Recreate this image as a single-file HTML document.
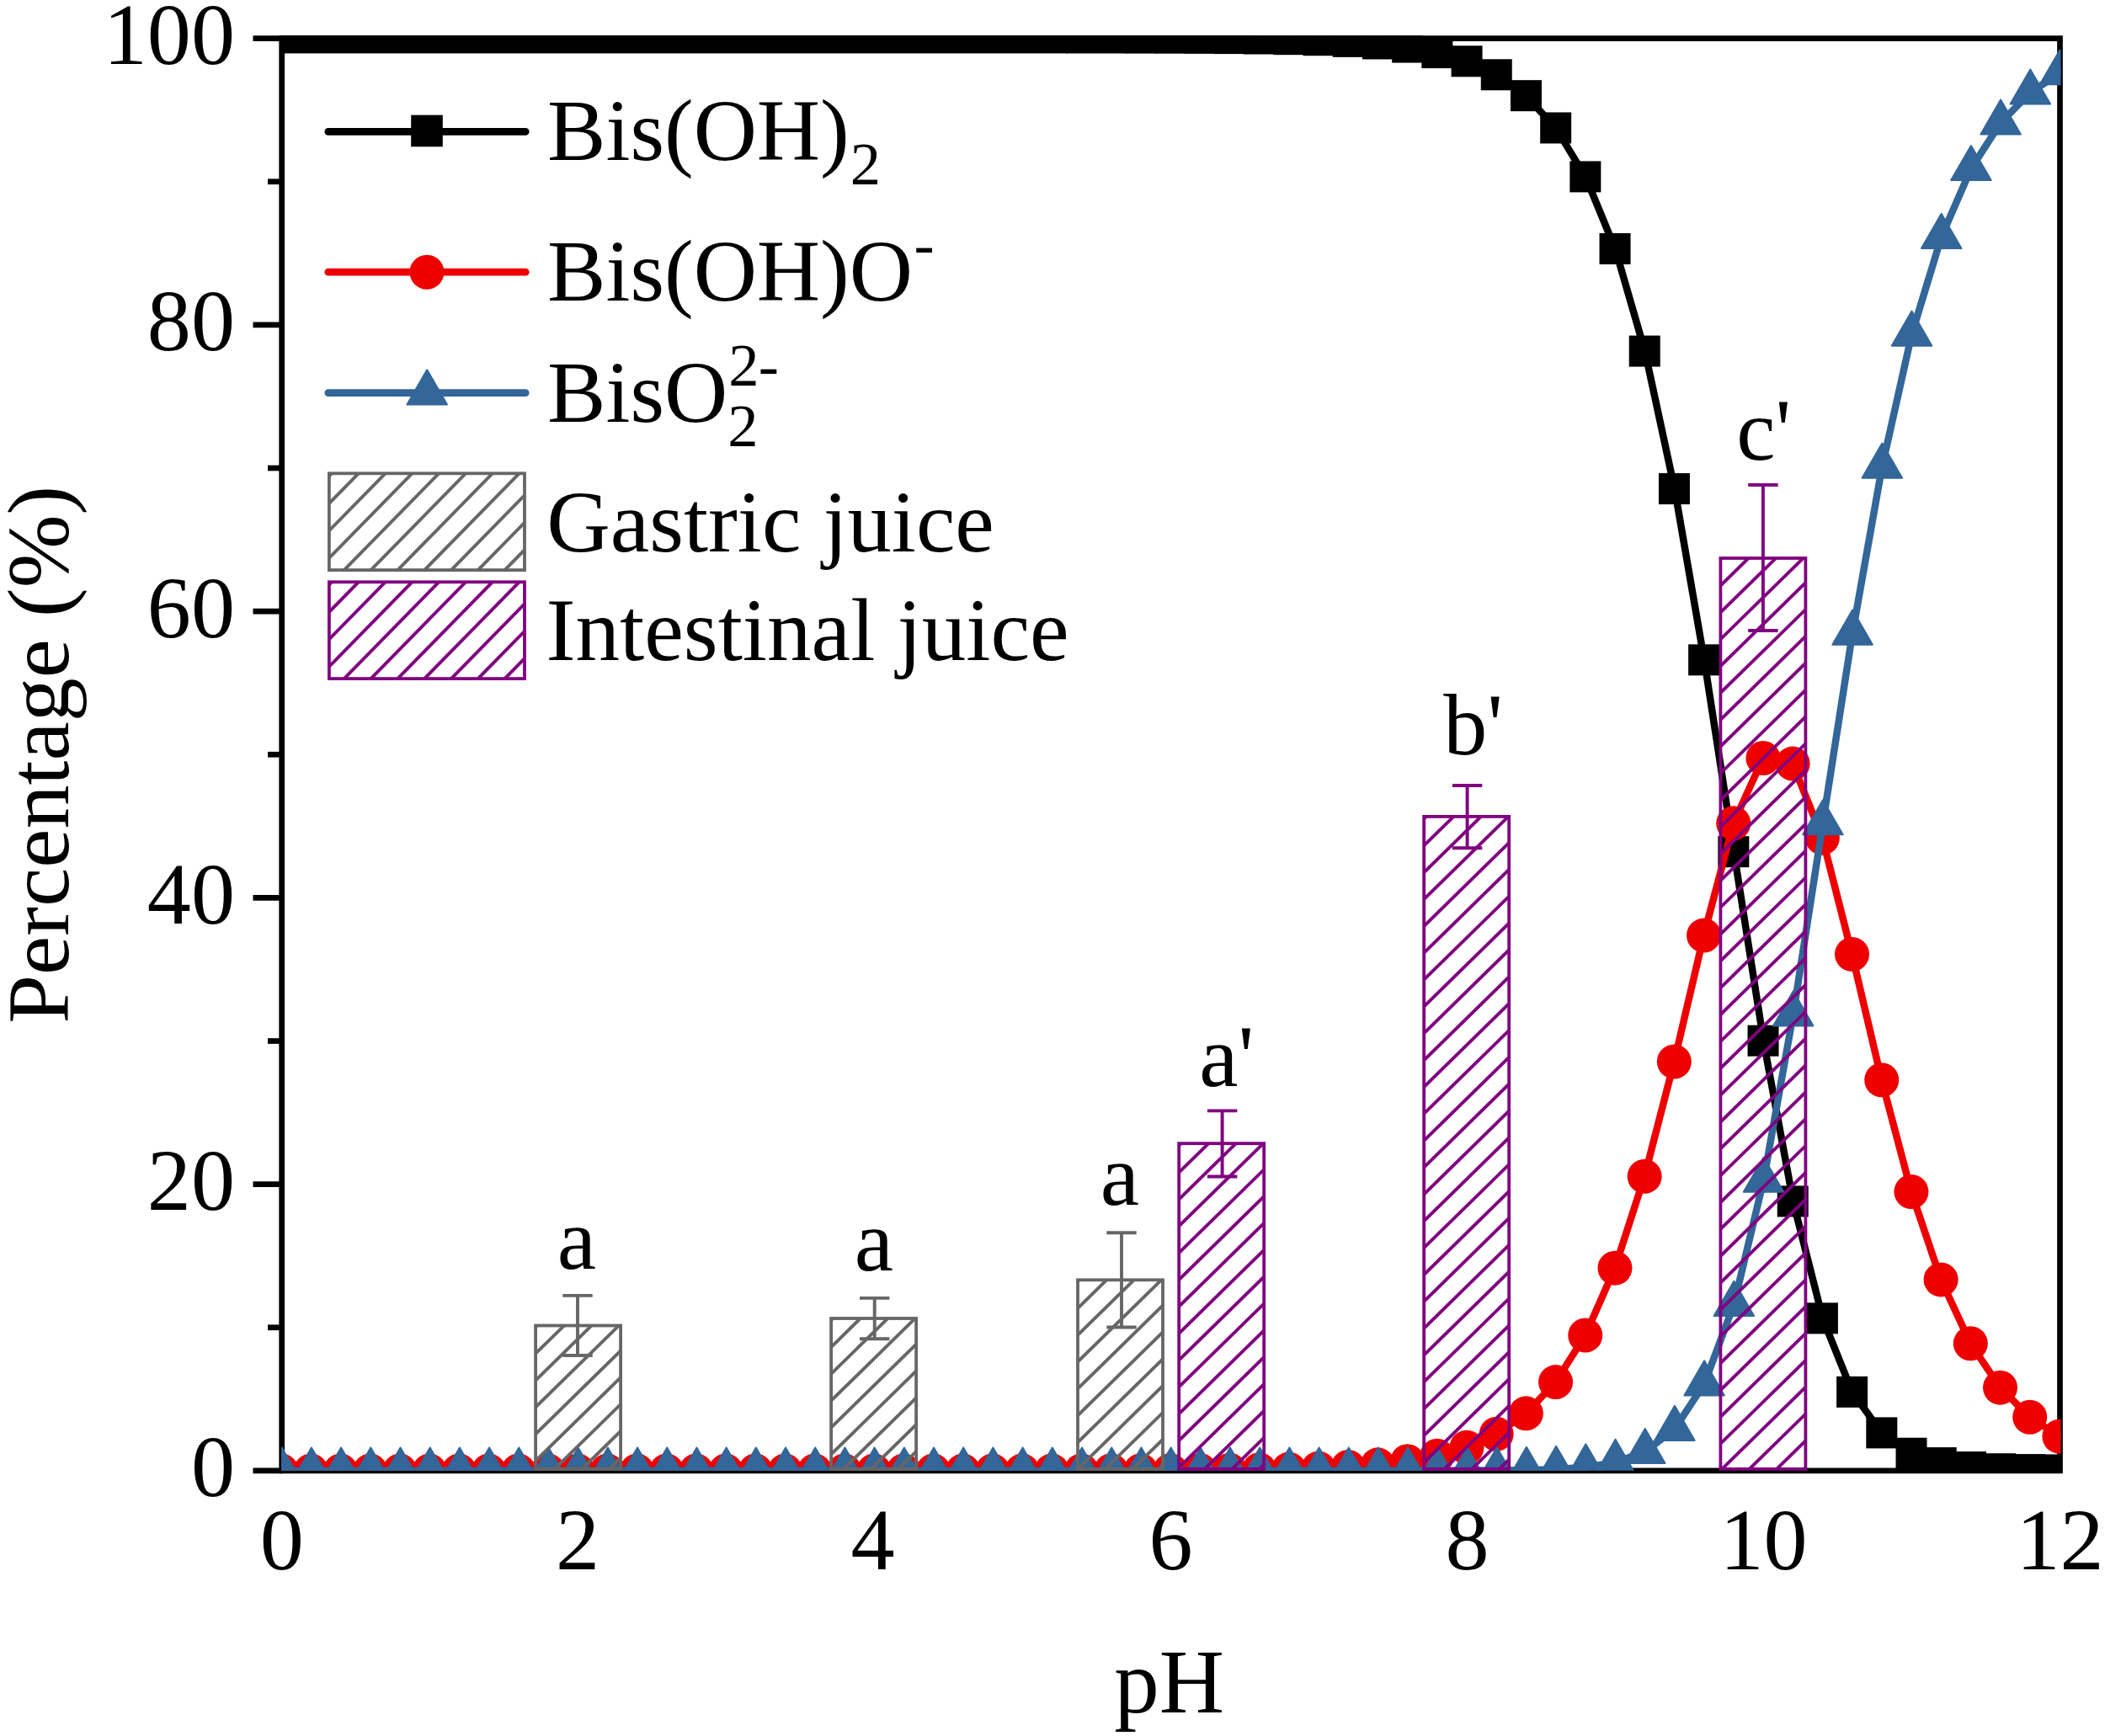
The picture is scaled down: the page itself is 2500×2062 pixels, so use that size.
<!DOCTYPE html>
<html lang="en"><head><meta charset="utf-8"><title>Speciation of Bis(OH)2 vs pH</title>
<style>html,body{margin:0;padding:0;background:#fff}body{width:2500px;height:2062px;overflow:hidden}svg{display:block}text{font-family:"Liberation Serif", serif;fill:#000}</style>
</head><body>
<svg width="2500" height="2062" viewBox="0 0 2500 2062">
<rect x="0" y="0" width="2500" height="2062" fill="#fff"/>
<defs><clipPath id="plot"><rect x="334.00" y="42.30" width="2113.50" height="1704.50"/></clipPath></defs>
<g stroke="#000" stroke-width="6.70" fill="none" stroke-linecap="butt">
<rect x="334.70" y="45.60" width="2111.80" height="1701.30"/>
<line x1="300.50" y1="1746.90" x2="334.70" y2="1746.90"/>
<line x1="318.00" y1="1576.77" x2="334.70" y2="1576.77"/>
<line x1="300.50" y1="1406.64" x2="334.70" y2="1406.64"/>
<line x1="318.00" y1="1236.51" x2="334.70" y2="1236.51"/>
<line x1="300.50" y1="1066.38" x2="334.70" y2="1066.38"/>
<line x1="318.00" y1="896.25" x2="334.70" y2="896.25"/>
<line x1="300.50" y1="726.12" x2="334.70" y2="726.12"/>
<line x1="318.00" y1="555.99" x2="334.70" y2="555.99"/>
<line x1="300.50" y1="385.86" x2="334.70" y2="385.86"/>
<line x1="318.00" y1="215.73" x2="334.70" y2="215.73"/>
<line x1="300.50" y1="45.60" x2="334.70" y2="45.60"/>
</g>
<g clip-path="url(#plot)">
<polyline points="334.70,45.60 369.90,45.60 405.09,45.60 440.29,45.60 475.49,45.60 510.68,45.60 545.88,45.60 581.08,45.60 616.27,45.60 651.47,45.60 686.67,45.60 721.86,45.60 757.06,45.60 792.26,45.60 827.45,45.60 862.65,45.60 897.85,45.60 933.04,45.60 968.24,45.60 1003.44,45.60 1038.63,45.60 1073.83,45.60 1109.03,45.61 1144.22,45.61 1179.42,45.62 1214.62,45.63 1249.81,45.64 1285.01,45.67 1320.21,45.71 1355.40,45.78 1390.60,45.88 1425.80,46.05 1460.99,46.31 1496.19,46.72 1531.39,47.38 1566.58,48.42 1601.78,50.07 1636.98,52.67 1672.17,56.78 1707.37,63.28 1742.57,73.48 1777.76,89.48 1812.96,114.35 1848.16,152.64 1883.35,210.60 1918.55,296.17 1953.75,417.77 1988.94,581.25 2024.14,784.54 2059.34,1012.40 2094.53,1236.87 2129.73,1427.62 2164.93,1566.57 2200.12,1654.05 2235.32,1702.58 2270.52,1726.93 2305.71,1738.27 2340.91,1743.27 2376.11,1745.41 2411.30,1746.29 2446.50,1746.65" fill="none" stroke="#000" stroke-width="8.50" stroke-linejoin="round" stroke-linecap="round"/>
<g fill="#000">
<rect x="315.70" y="26.40" width="952.11" height="37.00"/>
<rect x="1266.01" y="26.47" width="72.20" height="37.00"/>
<rect x="1336.40" y="26.58" width="37.00" height="37.00"/>
<rect x="1371.60" y="26.68" width="37.00" height="37.00"/>
<rect x="1406.80" y="26.85" width="37.00" height="37.00"/>
<rect x="1441.99" y="27.11" width="37.00" height="37.00"/>
<rect x="1477.19" y="27.52" width="37.00" height="37.00"/>
<rect x="1512.39" y="28.18" width="37.00" height="37.00"/>
<rect x="1547.58" y="29.22" width="37.00" height="37.00"/>
<rect x="1582.78" y="30.87" width="37.00" height="37.00"/>
<rect x="1617.98" y="33.47" width="37.00" height="37.00"/>
<rect x="1653.17" y="37.58" width="37.00" height="37.00"/>
<rect x="1688.37" y="44.08" width="37.00" height="37.00"/>
<rect x="1723.57" y="54.28" width="37.00" height="37.00"/>
<rect x="1758.76" y="70.28" width="37.00" height="37.00"/>
<rect x="1793.96" y="95.15" width="37.00" height="37.00"/>
<rect x="1829.16" y="133.44" width="37.00" height="37.00"/>
<rect x="1864.35" y="191.40" width="37.00" height="37.00"/>
<rect x="1899.55" y="276.97" width="37.00" height="37.00"/>
<rect x="1934.75" y="398.57" width="37.00" height="37.00"/>
<rect x="1969.94" y="562.05" width="37.00" height="37.00"/>
<rect x="2005.14" y="765.34" width="37.00" height="37.00"/>
<rect x="2040.34" y="993.20" width="37.00" height="37.00"/>
<rect x="2075.53" y="1217.67" width="37.00" height="37.00"/>
<rect x="2110.73" y="1408.42" width="37.00" height="37.00"/>
<rect x="2145.93" y="1547.37" width="37.00" height="37.00"/>
<rect x="2181.12" y="1634.85" width="37.00" height="37.00"/>
<rect x="2216.32" y="1683.38" width="37.00" height="37.00"/>
<rect x="2251.52" y="1707.73" width="37.00" height="37.00"/>
<rect x="2286.71" y="1719.07" width="37.00" height="37.00"/>
<rect x="2321.91" y="1724.07" width="37.00" height="37.00"/>
<rect x="2357.11" y="1726.21" width="37.00" height="37.00"/>
<rect x="2392.30" y="1727.09" width="37.00" height="37.00"/>
<rect x="2427.50" y="1727.45" width="37.00" height="37.00"/>
</g>
<polyline points="334.10,1746.90 369.30,1746.90 404.49,1746.90 439.69,1746.90 474.89,1746.90 510.08,1746.90 545.28,1746.90 580.48,1746.90 615.67,1746.90 650.87,1746.90 686.07,1746.90 721.26,1746.90 756.46,1746.90 791.66,1746.90 826.85,1746.90 862.05,1746.90 897.25,1746.90 932.44,1746.90 967.64,1746.90 1002.84,1746.90 1038.03,1746.90 1073.23,1746.90 1108.43,1746.89 1143.62,1746.89 1178.82,1746.88 1214.02,1746.87 1249.21,1746.86 1284.41,1746.83 1319.61,1746.79 1354.80,1746.72 1390.00,1746.62 1425.20,1746.45 1460.39,1746.19 1495.59,1745.78 1530.79,1745.12 1565.98,1744.08 1601.18,1742.44 1636.38,1739.84 1671.57,1735.73 1706.77,1729.27 1741.97,1719.13 1777.16,1703.31 1812.36,1678.84 1847.56,1641.57 1882.75,1586.03 1917.95,1506.14 1953.15,1397.30 1988.34,1260.98 2023.54,1111.08 2058.74,977.79 2093.93,900.46 2129.13,907.10 2164.33,995.17 2199.52,1133.41 2234.72,1282.81 2269.92,1415.52 2305.11,1519.90 2340.31,1595.77 2375.51,1648.18 2410.70,1683.21 2445.90,1706.14" fill="none" stroke="#ee0000" stroke-width="8.50" stroke-linejoin="round" stroke-linecap="round"/>
<g fill="#ee0000">
<circle cx="334.10" cy="1746.90" r="20.50"/>
<circle cx="369.30" cy="1746.90" r="20.50"/>
<circle cx="404.49" cy="1746.90" r="20.50"/>
<circle cx="439.69" cy="1746.90" r="20.50"/>
<circle cx="474.89" cy="1746.90" r="20.50"/>
<circle cx="510.08" cy="1746.90" r="20.50"/>
<circle cx="545.28" cy="1746.90" r="20.50"/>
<circle cx="580.48" cy="1746.90" r="20.50"/>
<circle cx="615.67" cy="1746.90" r="20.50"/>
<circle cx="650.87" cy="1746.90" r="20.50"/>
<circle cx="686.07" cy="1746.90" r="20.50"/>
<circle cx="721.26" cy="1746.90" r="20.50"/>
<circle cx="756.46" cy="1746.90" r="20.50"/>
<circle cx="791.66" cy="1746.90" r="20.50"/>
<circle cx="826.85" cy="1746.90" r="20.50"/>
<circle cx="862.05" cy="1746.90" r="20.50"/>
<circle cx="897.25" cy="1746.90" r="20.50"/>
<circle cx="932.44" cy="1746.90" r="20.50"/>
<circle cx="967.64" cy="1746.90" r="20.50"/>
<circle cx="1002.84" cy="1746.90" r="20.50"/>
<circle cx="1038.03" cy="1746.90" r="20.50"/>
<circle cx="1073.23" cy="1746.90" r="20.50"/>
<circle cx="1108.43" cy="1746.89" r="20.50"/>
<circle cx="1143.62" cy="1746.89" r="20.50"/>
<circle cx="1178.82" cy="1746.88" r="20.50"/>
<circle cx="1214.02" cy="1746.87" r="20.50"/>
<circle cx="1249.21" cy="1746.86" r="20.50"/>
<circle cx="1284.41" cy="1746.83" r="20.50"/>
<circle cx="1319.61" cy="1746.79" r="20.50"/>
<circle cx="1354.80" cy="1746.72" r="20.50"/>
<circle cx="1390.00" cy="1746.62" r="20.50"/>
<circle cx="1425.20" cy="1746.45" r="20.50"/>
<circle cx="1460.39" cy="1746.19" r="20.50"/>
<circle cx="1495.59" cy="1745.78" r="20.50"/>
<circle cx="1530.79" cy="1745.12" r="20.50"/>
<circle cx="1565.98" cy="1744.08" r="20.50"/>
<circle cx="1601.18" cy="1742.44" r="20.50"/>
<circle cx="1636.38" cy="1739.84" r="20.50"/>
<circle cx="1671.57" cy="1735.73" r="20.50"/>
<circle cx="1706.77" cy="1729.27" r="20.50"/>
<circle cx="1741.97" cy="1719.13" r="20.50"/>
<circle cx="1777.16" cy="1703.31" r="20.50"/>
<circle cx="1812.36" cy="1678.84" r="20.50"/>
<circle cx="1847.56" cy="1641.57" r="20.50"/>
<circle cx="1882.75" cy="1586.03" r="20.50"/>
<circle cx="1917.95" cy="1506.14" r="20.50"/>
<circle cx="1953.15" cy="1397.30" r="20.50"/>
<circle cx="1988.34" cy="1260.98" r="20.50"/>
<circle cx="2023.54" cy="1111.08" r="20.50"/>
<circle cx="2058.74" cy="977.79" r="20.50"/>
<circle cx="2093.93" cy="900.46" r="20.50"/>
<circle cx="2129.13" cy="907.10" r="20.50"/>
<circle cx="2164.33" cy="995.17" r="20.50"/>
<circle cx="2199.52" cy="1133.41" r="20.50"/>
<circle cx="2234.72" cy="1282.81" r="20.50"/>
<circle cx="2269.92" cy="1415.52" r="20.50"/>
<circle cx="2305.11" cy="1519.90" r="20.50"/>
<circle cx="2340.31" cy="1595.77" r="20.50"/>
<circle cx="2375.51" cy="1648.18" r="20.50"/>
<circle cx="2410.70" cy="1683.21" r="20.50"/>
<circle cx="2445.90" cy="1706.14" r="20.50"/>
</g>
<polyline points="334.70,1746.90 369.90,1746.90 405.09,1746.90 440.29,1746.90 475.49,1746.90 510.68,1746.90 545.88,1746.90 581.08,1746.90 616.27,1746.90 651.47,1746.90 686.67,1746.90 721.86,1746.90 757.06,1746.90 792.26,1746.90 827.45,1746.90 862.65,1746.90 897.85,1746.90 933.04,1746.90 968.24,1746.90 1003.44,1746.90 1038.63,1746.90 1073.83,1746.90 1109.03,1746.90 1144.22,1746.90 1179.42,1746.90 1214.62,1746.90 1249.81,1746.90 1285.01,1746.90 1320.21,1746.90 1355.40,1746.90 1390.60,1746.90 1425.80,1746.90 1460.99,1746.90 1496.19,1746.90 1531.39,1746.90 1566.58,1746.90 1601.78,1746.90 1636.98,1746.89 1672.17,1746.88 1707.37,1746.85 1742.57,1746.79 1777.76,1746.62 1812.96,1746.20 1848.16,1745.19 1883.35,1742.77 1918.55,1737.09 1953.75,1724.33 1988.94,1697.18 2024.14,1643.78 2059.34,1549.21 2094.53,1402.08 2129.73,1204.68 2164.93,977.66 2200.12,751.94 2235.32,554.01 2270.52,396.94 2305.71,281.24 2340.91,200.36 2376.11,145.82 2411.30,109.90 2446.50,86.60" fill="none" stroke="#336699" stroke-width="8.50" stroke-linejoin="round" stroke-linecap="round"/>
<g fill="#336699" stroke="#336699" stroke-width="2" stroke-linejoin="round">
<path d="M334.70 1719.48L358.45 1760.61L310.95 1760.61Z"/>
<path d="M369.90 1719.48L393.65 1760.61L346.15 1760.61Z"/>
<path d="M405.09 1719.48L428.84 1760.61L381.34 1760.61Z"/>
<path d="M440.29 1719.48L464.04 1760.61L416.54 1760.61Z"/>
<path d="M475.49 1719.48L499.24 1760.61L451.74 1760.61Z"/>
<path d="M510.68 1719.48L534.43 1760.61L486.93 1760.61Z"/>
<path d="M545.88 1719.48L569.63 1760.61L522.13 1760.61Z"/>
<path d="M581.08 1719.48L604.83 1760.61L557.33 1760.61Z"/>
<path d="M616.27 1719.48L640.02 1760.61L592.52 1760.61Z"/>
<path d="M651.47 1719.48L675.22 1760.61L627.72 1760.61Z"/>
<path d="M686.67 1719.48L710.42 1760.61L662.92 1760.61Z"/>
<path d="M721.86 1719.48L745.61 1760.61L698.11 1760.61Z"/>
<path d="M757.06 1719.48L780.81 1760.61L733.31 1760.61Z"/>
<path d="M792.26 1719.48L816.01 1760.61L768.51 1760.61Z"/>
<path d="M827.45 1719.48L851.20 1760.61L803.70 1760.61Z"/>
<path d="M862.65 1719.48L886.40 1760.61L838.90 1760.61Z"/>
<path d="M897.85 1719.48L921.60 1760.61L874.10 1760.61Z"/>
<path d="M933.04 1719.48L956.79 1760.61L909.29 1760.61Z"/>
<path d="M968.24 1719.48L991.99 1760.61L944.49 1760.61Z"/>
<path d="M1003.44 1719.48L1027.19 1760.61L979.69 1760.61Z"/>
<path d="M1038.63 1719.48L1062.38 1760.61L1014.88 1760.61Z"/>
<path d="M1073.83 1719.48L1097.58 1760.61L1050.08 1760.61Z"/>
<path d="M1109.03 1719.48L1132.78 1760.61L1085.28 1760.61Z"/>
<path d="M1144.22 1719.48L1167.97 1760.61L1120.47 1760.61Z"/>
<path d="M1179.42 1719.48L1203.17 1760.61L1155.67 1760.61Z"/>
<path d="M1214.62 1719.48L1238.37 1760.61L1190.87 1760.61Z"/>
<path d="M1249.81 1719.48L1273.56 1760.61L1226.06 1760.61Z"/>
<path d="M1285.01 1719.48L1308.76 1760.61L1261.26 1760.61Z"/>
<path d="M1320.21 1719.48L1343.96 1760.61L1296.46 1760.61Z"/>
<path d="M1355.40 1719.48L1379.15 1760.61L1331.65 1760.61Z"/>
<path d="M1390.60 1719.48L1414.35 1760.61L1366.85 1760.61Z"/>
<path d="M1425.80 1719.48L1449.55 1760.61L1402.05 1760.61Z"/>
<path d="M1460.99 1719.48L1484.74 1760.61L1437.24 1760.61Z"/>
<path d="M1496.19 1719.48L1519.94 1760.61L1472.44 1760.61Z"/>
<path d="M1531.39 1719.48L1555.14 1760.61L1507.64 1760.61Z"/>
<path d="M1566.58 1719.47L1590.33 1760.61L1542.83 1760.61Z"/>
<path d="M1601.78 1719.47L1625.53 1760.61L1578.03 1760.61Z"/>
<path d="M1636.98 1719.47L1660.73 1760.60L1613.23 1760.60Z"/>
<path d="M1672.17 1719.46L1695.92 1760.59L1648.42 1760.59Z"/>
<path d="M1707.37 1719.43L1731.12 1760.57L1683.62 1760.57Z"/>
<path d="M1742.57 1719.36L1766.32 1760.50L1718.82 1760.50Z"/>
<path d="M1777.76 1719.19L1801.51 1760.33L1754.01 1760.33Z"/>
<path d="M1812.96 1718.78L1836.71 1759.92L1789.21 1759.92Z"/>
<path d="M1848.16 1717.77L1871.91 1758.90L1824.41 1758.90Z"/>
<path d="M1883.35 1715.34L1907.10 1756.48L1859.60 1756.48Z"/>
<path d="M1918.55 1709.67L1942.30 1750.80L1894.80 1750.80Z"/>
<path d="M1953.75 1696.90L1977.50 1738.04L1930.00 1738.04Z"/>
<path d="M1988.94 1669.75L2012.69 1710.89L1965.19 1710.89Z"/>
<path d="M2024.14 1616.36L2047.89 1657.49L2000.39 1657.49Z"/>
<path d="M2059.34 1521.78L2083.09 1562.92L2035.59 1562.92Z"/>
<path d="M2094.53 1374.65L2118.28 1415.79L2070.78 1415.79Z"/>
<path d="M2129.73 1177.26L2153.48 1218.39L2105.98 1218.39Z"/>
<path d="M2164.93 950.23L2188.68 991.37L2141.18 991.37Z"/>
<path d="M2200.12 724.52L2223.87 765.65L2176.37 765.65Z"/>
<path d="M2235.32 526.58L2259.07 567.72L2211.57 567.72Z"/>
<path d="M2270.52 369.52L2294.27 410.65L2246.77 410.65Z"/>
<path d="M2305.71 253.81L2329.46 294.95L2281.96 294.95Z"/>
<path d="M2340.91 172.94L2364.66 214.07L2317.16 214.07Z"/>
<path d="M2376.11 118.39L2399.86 159.53L2352.36 159.53Z"/>
<path d="M2411.30 82.47L2435.05 123.61L2387.55 123.61Z"/>
<path d="M2446.50 59.18L2470.25 100.31L2422.75 100.31Z"/>
</g>
</g>
<clipPath id="b0"><rect x="636.10" y="1574.50" width="101.00" height="170.40"/></clipPath>
<g clip-path="url(#b0)" stroke="#666666" stroke-width="3.90" fill="none">
<line x1="631.10" y1="1580.80" x2="742.10" y2="1472.02"/>
<line x1="631.10" y1="1612.65" x2="742.10" y2="1503.87"/>
<line x1="631.10" y1="1644.50" x2="742.10" y2="1535.72"/>
<line x1="631.10" y1="1676.35" x2="742.10" y2="1567.57"/>
<line x1="631.10" y1="1708.20" x2="742.10" y2="1599.42"/>
<line x1="631.10" y1="1740.05" x2="742.10" y2="1631.27"/>
<line x1="631.10" y1="1771.90" x2="742.10" y2="1663.12"/>
<line x1="631.10" y1="1803.75" x2="742.10" y2="1694.97"/>
<line x1="631.10" y1="1835.60" x2="742.10" y2="1726.82"/>
</g>
<rect x="636.10" y="1574.50" width="101.00" height="170.40" fill="none" stroke="#666666" stroke-width="3.80"/>
<path d="M686.00 1538.90V1610.00M668.30 1538.90H703.70M668.30 1610.00H703.70" stroke="#666666" stroke-width="3.90" fill="none"/>
<clipPath id="b1"><rect x="987.10" y="1566.00" width="101.00" height="178.90"/></clipPath>
<g clip-path="url(#b1)" stroke="#666666" stroke-width="3.90" fill="none">
<line x1="982.10" y1="1573.10" x2="1093.10" y2="1464.32"/>
<line x1="982.10" y1="1604.95" x2="1093.10" y2="1496.17"/>
<line x1="982.10" y1="1636.80" x2="1093.10" y2="1528.02"/>
<line x1="982.10" y1="1668.65" x2="1093.10" y2="1559.87"/>
<line x1="982.10" y1="1700.50" x2="1093.10" y2="1591.72"/>
<line x1="982.10" y1="1732.35" x2="1093.10" y2="1623.57"/>
<line x1="982.10" y1="1764.20" x2="1093.10" y2="1655.42"/>
<line x1="982.10" y1="1796.05" x2="1093.10" y2="1687.27"/>
<line x1="982.10" y1="1827.90" x2="1093.10" y2="1719.12"/>
</g>
<rect x="987.10" y="1566.00" width="101.00" height="178.90" fill="none" stroke="#666666" stroke-width="3.80"/>
<path d="M1038.70 1541.90V1590.30M1021.00 1541.90H1056.40M1021.00 1590.30H1056.40" stroke="#666666" stroke-width="3.90" fill="none"/>
<clipPath id="b2"><rect x="1280.00" y="1520.30" width="101.00" height="224.60"/></clipPath>
<g clip-path="url(#b2)" stroke="#666666" stroke-width="3.90" fill="none">
<line x1="1275.00" y1="1526.95" x2="1386.00" y2="1418.17"/>
<line x1="1275.00" y1="1558.80" x2="1386.00" y2="1450.02"/>
<line x1="1275.00" y1="1590.65" x2="1386.00" y2="1481.87"/>
<line x1="1275.00" y1="1622.50" x2="1386.00" y2="1513.72"/>
<line x1="1275.00" y1="1654.35" x2="1386.00" y2="1545.57"/>
<line x1="1275.00" y1="1686.20" x2="1386.00" y2="1577.42"/>
<line x1="1275.00" y1="1718.05" x2="1386.00" y2="1609.27"/>
<line x1="1275.00" y1="1749.90" x2="1386.00" y2="1641.12"/>
<line x1="1275.00" y1="1781.75" x2="1386.00" y2="1672.97"/>
<line x1="1275.00" y1="1813.60" x2="1386.00" y2="1704.82"/>
<line x1="1275.00" y1="1845.45" x2="1386.00" y2="1736.67"/>
</g>
<rect x="1280.00" y="1520.30" width="101.00" height="224.60" fill="none" stroke="#666666" stroke-width="3.80"/>
<path d="M1332.00 1464.20V1576.50M1314.30 1464.20H1349.70M1314.30 1576.50H1349.70" stroke="#666666" stroke-width="3.90" fill="none"/>
<clipPath id="b3"><rect x="1400.20" y="1358.20" width="101.00" height="386.70"/></clipPath>
<g clip-path="url(#b3)" stroke="#800080" stroke-width="3.90" fill="none">
<line x1="1395.20" y1="1365.65" x2="1506.20" y2="1256.87"/>
<line x1="1395.20" y1="1397.50" x2="1506.20" y2="1288.72"/>
<line x1="1395.20" y1="1429.35" x2="1506.20" y2="1320.57"/>
<line x1="1395.20" y1="1461.20" x2="1506.20" y2="1352.42"/>
<line x1="1395.20" y1="1493.05" x2="1506.20" y2="1384.27"/>
<line x1="1395.20" y1="1524.90" x2="1506.20" y2="1416.12"/>
<line x1="1395.20" y1="1556.75" x2="1506.20" y2="1447.97"/>
<line x1="1395.20" y1="1588.60" x2="1506.20" y2="1479.82"/>
<line x1="1395.20" y1="1620.45" x2="1506.20" y2="1511.67"/>
<line x1="1395.20" y1="1652.30" x2="1506.20" y2="1543.52"/>
<line x1="1395.20" y1="1684.15" x2="1506.20" y2="1575.37"/>
<line x1="1395.20" y1="1716.00" x2="1506.20" y2="1607.22"/>
<line x1="1395.20" y1="1747.85" x2="1506.20" y2="1639.07"/>
<line x1="1395.20" y1="1779.70" x2="1506.20" y2="1670.92"/>
<line x1="1395.20" y1="1811.55" x2="1506.20" y2="1702.77"/>
<line x1="1395.20" y1="1843.40" x2="1506.20" y2="1734.62"/>
</g>
<rect x="1400.20" y="1358.20" width="101.00" height="386.70" fill="none" stroke="#800080" stroke-width="3.80"/>
<path d="M1451.60 1319.40V1397.50M1433.90 1319.40H1469.30M1433.90 1397.50H1469.30" stroke="#800080" stroke-width="3.90" fill="none"/>
<clipPath id="b4"><rect x="1691.20" y="969.90" width="101.00" height="775.00"/></clipPath>
<g clip-path="url(#b4)" stroke="#800080" stroke-width="3.90" fill="none">
<line x1="1686.20" y1="977.45" x2="1797.20" y2="868.67"/>
<line x1="1686.20" y1="1009.30" x2="1797.20" y2="900.52"/>
<line x1="1686.20" y1="1041.15" x2="1797.20" y2="932.37"/>
<line x1="1686.20" y1="1073.00" x2="1797.20" y2="964.22"/>
<line x1="1686.20" y1="1104.85" x2="1797.20" y2="996.07"/>
<line x1="1686.20" y1="1136.70" x2="1797.20" y2="1027.92"/>
<line x1="1686.20" y1="1168.55" x2="1797.20" y2="1059.77"/>
<line x1="1686.20" y1="1200.40" x2="1797.20" y2="1091.62"/>
<line x1="1686.20" y1="1232.25" x2="1797.20" y2="1123.47"/>
<line x1="1686.20" y1="1264.10" x2="1797.20" y2="1155.32"/>
<line x1="1686.20" y1="1295.95" x2="1797.20" y2="1187.17"/>
<line x1="1686.20" y1="1327.80" x2="1797.20" y2="1219.02"/>
<line x1="1686.20" y1="1359.65" x2="1797.20" y2="1250.87"/>
<line x1="1686.20" y1="1391.50" x2="1797.20" y2="1282.72"/>
<line x1="1686.20" y1="1423.35" x2="1797.20" y2="1314.57"/>
<line x1="1686.20" y1="1455.20" x2="1797.20" y2="1346.42"/>
<line x1="1686.20" y1="1487.05" x2="1797.20" y2="1378.27"/>
<line x1="1686.20" y1="1518.90" x2="1797.20" y2="1410.12"/>
<line x1="1686.20" y1="1550.75" x2="1797.20" y2="1441.97"/>
<line x1="1686.20" y1="1582.60" x2="1797.20" y2="1473.82"/>
<line x1="1686.20" y1="1614.45" x2="1797.20" y2="1505.67"/>
<line x1="1686.20" y1="1646.30" x2="1797.20" y2="1537.52"/>
<line x1="1686.20" y1="1678.15" x2="1797.20" y2="1569.37"/>
<line x1="1686.20" y1="1710.00" x2="1797.20" y2="1601.22"/>
<line x1="1686.20" y1="1741.85" x2="1797.20" y2="1633.07"/>
<line x1="1686.20" y1="1773.70" x2="1797.20" y2="1664.92"/>
<line x1="1686.20" y1="1805.55" x2="1797.20" y2="1696.77"/>
<line x1="1686.20" y1="1837.40" x2="1797.20" y2="1728.62"/>
</g>
<rect x="1691.20" y="969.90" width="101.00" height="775.00" fill="none" stroke="#800080" stroke-width="3.80"/>
<path d="M1742.60 933.00V1007.20M1724.90 933.00H1760.30M1724.90 1007.20H1760.30" stroke="#800080" stroke-width="3.90" fill="none"/>
<clipPath id="b5"><rect x="2043.40" y="663.00" width="101.00" height="1081.90"/></clipPath>
<g clip-path="url(#b5)" stroke="#800080" stroke-width="3.90" fill="none">
<line x1="2038.40" y1="668.60" x2="2149.40" y2="559.82"/>
<line x1="2038.40" y1="700.45" x2="2149.40" y2="591.67"/>
<line x1="2038.40" y1="732.30" x2="2149.40" y2="623.52"/>
<line x1="2038.40" y1="764.15" x2="2149.40" y2="655.37"/>
<line x1="2038.40" y1="796.00" x2="2149.40" y2="687.22"/>
<line x1="2038.40" y1="827.85" x2="2149.40" y2="719.07"/>
<line x1="2038.40" y1="859.70" x2="2149.40" y2="750.92"/>
<line x1="2038.40" y1="891.55" x2="2149.40" y2="782.77"/>
<line x1="2038.40" y1="923.40" x2="2149.40" y2="814.62"/>
<line x1="2038.40" y1="955.25" x2="2149.40" y2="846.47"/>
<line x1="2038.40" y1="987.10" x2="2149.40" y2="878.32"/>
<line x1="2038.40" y1="1018.95" x2="2149.40" y2="910.17"/>
<line x1="2038.40" y1="1050.80" x2="2149.40" y2="942.02"/>
<line x1="2038.40" y1="1082.65" x2="2149.40" y2="973.87"/>
<line x1="2038.40" y1="1114.50" x2="2149.40" y2="1005.72"/>
<line x1="2038.40" y1="1146.35" x2="2149.40" y2="1037.57"/>
<line x1="2038.40" y1="1178.20" x2="2149.40" y2="1069.42"/>
<line x1="2038.40" y1="1210.05" x2="2149.40" y2="1101.27"/>
<line x1="2038.40" y1="1241.90" x2="2149.40" y2="1133.12"/>
<line x1="2038.40" y1="1273.75" x2="2149.40" y2="1164.97"/>
<line x1="2038.40" y1="1305.60" x2="2149.40" y2="1196.82"/>
<line x1="2038.40" y1="1337.45" x2="2149.40" y2="1228.67"/>
<line x1="2038.40" y1="1369.30" x2="2149.40" y2="1260.52"/>
<line x1="2038.40" y1="1401.15" x2="2149.40" y2="1292.37"/>
<line x1="2038.40" y1="1433.00" x2="2149.40" y2="1324.22"/>
<line x1="2038.40" y1="1464.85" x2="2149.40" y2="1356.07"/>
<line x1="2038.40" y1="1496.70" x2="2149.40" y2="1387.92"/>
<line x1="2038.40" y1="1528.55" x2="2149.40" y2="1419.77"/>
<line x1="2038.40" y1="1560.40" x2="2149.40" y2="1451.62"/>
<line x1="2038.40" y1="1592.25" x2="2149.40" y2="1483.47"/>
<line x1="2038.40" y1="1624.10" x2="2149.40" y2="1515.32"/>
<line x1="2038.40" y1="1655.95" x2="2149.40" y2="1547.17"/>
<line x1="2038.40" y1="1687.80" x2="2149.40" y2="1579.02"/>
<line x1="2038.40" y1="1719.65" x2="2149.40" y2="1610.87"/>
<line x1="2038.40" y1="1751.50" x2="2149.40" y2="1642.72"/>
<line x1="2038.40" y1="1783.35" x2="2149.40" y2="1674.57"/>
<line x1="2038.40" y1="1815.20" x2="2149.40" y2="1706.42"/>
<line x1="2038.40" y1="1847.05" x2="2149.40" y2="1738.27"/>
</g>
<rect x="2043.40" y="663.00" width="101.00" height="1081.90" fill="none" stroke="#800080" stroke-width="3.80"/>
<path d="M2093.90 576.00V749.00M2076.20 576.00H2111.60M2076.20 749.00H2111.60" stroke="#800080" stroke-width="3.90" fill="none"/>
<line x1="389.80" y1="156.40" x2="624.20" y2="156.40" stroke="#000" stroke-width="8.70" stroke-linecap="round"/>
<rect x="488.20" y="136.65" width="37.60" height="37.60" fill="#000"/>
<line x1="389.80" y1="323.20" x2="624.20" y2="323.20" stroke="#ee0000" stroke-width="8.70" stroke-linecap="round"/>
<circle cx="507" cy="323.2" r="20.50" fill="#ee0000"/>
<line x1="389.80" y1="466.70" x2="624.20" y2="466.70" stroke="#336699" stroke-width="8.70" stroke-linecap="round"/>
<path d="M507.20 439.28L530.95 480.41L483.45 480.41Z" fill="#336699" stroke="#336699" stroke-width="2" stroke-linejoin="round"/>
<clipPath id="lg"><rect x="390.90" y="562.30" width="232.10" height="114.80"/></clipPath>
<g clip-path="url(#lg)" stroke="#666666" stroke-width="3.90" fill="none">
<line x1="385.90" y1="570.60" x2="628.00" y2="323.66"/>
<line x1="385.90" y1="603.04" x2="628.00" y2="356.10"/>
<line x1="385.90" y1="635.48" x2="628.00" y2="388.54"/>
<line x1="385.90" y1="667.92" x2="628.00" y2="420.98"/>
<line x1="385.90" y1="700.36" x2="628.00" y2="453.42"/>
<line x1="385.90" y1="732.80" x2="628.00" y2="485.86"/>
<line x1="385.90" y1="765.24" x2="628.00" y2="518.30"/>
<line x1="385.90" y1="797.68" x2="628.00" y2="550.74"/>
<line x1="385.90" y1="830.12" x2="628.00" y2="583.18"/>
<line x1="385.90" y1="862.56" x2="628.00" y2="615.62"/>
<line x1="385.90" y1="895.00" x2="628.00" y2="648.06"/>
</g>
<rect x="390.90" y="562.30" width="232.10" height="114.80" fill="none" stroke="#666666" stroke-width="3.80"/>
<clipPath id="lp"><rect x="390.90" y="691.30" width="232.10" height="114.80"/></clipPath>
<g clip-path="url(#lp)" stroke="#800080" stroke-width="3.90" fill="none">
<line x1="385.90" y1="699.60" x2="628.00" y2="452.66"/>
<line x1="385.90" y1="732.04" x2="628.00" y2="485.10"/>
<line x1="385.90" y1="764.48" x2="628.00" y2="517.54"/>
<line x1="385.90" y1="796.92" x2="628.00" y2="549.98"/>
<line x1="385.90" y1="829.36" x2="628.00" y2="582.42"/>
<line x1="385.90" y1="861.80" x2="628.00" y2="614.86"/>
<line x1="385.90" y1="894.24" x2="628.00" y2="647.30"/>
<line x1="385.90" y1="926.68" x2="628.00" y2="679.74"/>
<line x1="385.90" y1="959.12" x2="628.00" y2="712.18"/>
<line x1="385.90" y1="991.56" x2="628.00" y2="744.62"/>
<line x1="385.90" y1="1024.00" x2="628.00" y2="777.06"/>
</g>
<rect x="390.90" y="691.30" width="232.10" height="114.80" fill="none" stroke="#800080" stroke-width="3.80"/>
<text x="279.00" y="1777.40" font-size="104.17" text-anchor="end">0</text>
<text x="279.00" y="1437.14" font-size="104.17" text-anchor="end">20</text>
<text x="279.00" y="1096.88" font-size="104.17" text-anchor="end">40</text>
<text x="279.00" y="756.62" font-size="104.17" text-anchor="end">60</text>
<text x="279.00" y="416.36" font-size="104.17" text-anchor="end">80</text>
<text x="279.00" y="76.10" font-size="104.17" text-anchor="end">100</text>
<text x="334.70" y="1864.00" font-size="104.17" text-anchor="middle">0</text>
<text x="685.97" y="1864.00" font-size="104.17" text-anchor="middle">2</text>
<text x="1036.63" y="1864.00" font-size="104.17" text-anchor="middle">4</text>
<text x="1390.60" y="1864.00" font-size="104.17" text-anchor="middle">6</text>
<text x="1742.57" y="1864.00" font-size="104.17" text-anchor="middle">8</text>
<text x="2094.53" y="1864.00" font-size="104.17" text-anchor="middle">10</text>
<text x="2446.50" y="1864.00" font-size="104.17" text-anchor="middle">12</text>
<text x="1388.6" y="2034.3" font-size="107" text-anchor="middle">pH</text>
<text transform="translate(80.6 896.3) rotate(-90)" font-size="104.17" text-anchor="middle">Percentage (%)</text>
<text x="650.00" y="190.40" font-size="104.17" text-anchor="start">Bis(OH)<tspan font-size="72.50" dx="1" dy="28.4">2</tspan></text>
<text x="650.00" y="357.00" font-size="104.17" text-anchor="start">Bis(OH)O<tspan font-size="72.50" dx="1.5" dy="-42.9">-</tspan></text>
<text x="650.00" y="501.00" font-size="104.17" text-anchor="start">BisO<tspan font-size="72.50" dy="29">2</tspan></text>
<text x="865.3" y="458.1" font-size="72.50">2<tspan dx="-0.9">-</tspan></text>
<text x="649.3" y="654.7" font-size="104.6">Gastric juice</text>
<text x="648.6" y="784.4" font-size="105.0">Intestinal juice</text>
<text x="684.90" y="1506.60" font-size="104.17" text-anchor="middle">a</text>
<text x="1037.90" y="1509.00" font-size="104.17" text-anchor="middle">a</text>
<text x="1329.80" y="1431.00" font-size="104.17" text-anchor="middle">a</text>
<text x="1456.70" y="1290.30" font-size="104.17" text-anchor="middle">a'</text>
<text x="1749.60" y="896.00" font-size="104.17" text-anchor="middle">b'</text>
<text x="2094.70" y="545.80" font-size="104.17" text-anchor="middle">c'</text>
</svg></body></html>
